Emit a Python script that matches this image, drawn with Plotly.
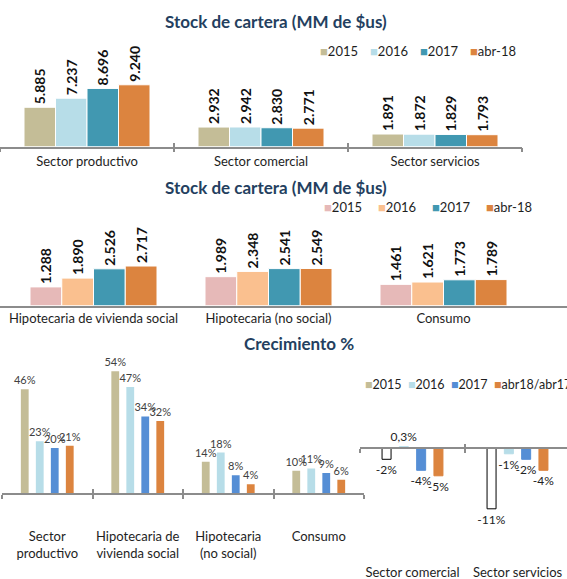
import plotly.graph_objects as go

W, H = 567, 579

# ---------------- data ----------------
series_a = ["2015", "2016", "2017", "abr-18"]
cats_a = ["Sector productivo", "Sector comercial", "Sector servicios"]
stock_a_2015 = [5.885, 2.932, 1.891]
stock_a_2016 = [7.237, 2.942, 1.872]
stock_a_2017 = [8.696, 2.830, 1.829]
stock_a_abr18 = [9.240, 2.771, 1.793]

cats_b = ["Hipotecaria de vivienda social", "Hipotecaria (no social)", "Consumo"]
stock_b_2015 = [1.288, 1.989, 1.461]
stock_b_2016 = [1.890, 2.348, 1.621]
stock_b_2017 = [2.526, 2.541, 1.773]
stock_b_abr18 = [2.717, 2.549, 1.789]

series_c = ["2015", "2016", "2017", "abr18/abr17"]
cats_c = ["Sector<br>productivo", "Hipotecaria de<br>vivienda social",
          "Hipotecaria<br>(no social)", "Consumo"]
crec_c_2015 = [46, 54, 14, 10]
crec_c_2016 = [23, 47, 18, 11]
crec_c_2017 = [20, 34, 8, 9]
crec_c_abr = [21, 32, 4, 6]

cats_d = ["Sector comercial", "Sector servicios"]
crec_d_2015 = [-2, -11]
crec_d_2016 = [0.3, -1]
crec_d_2017 = [-4, -2]
crec_d_abr = [-5, -4]

# ---------------- styles ----------------
FONT = "Lato"
TITLE_COLOR = "#243f60"
AXIS_COLOR = "#8c8c8c"
TEXT_COLOR = "#1e1e1e"
colors_a = ["#c4bd97", "#b7dde8", "#4198b1", "#dc843f"]
colors_b = ["#e6b9b8", "#fac08f", "#4198b1", "#dc843f"]
colors_c = ["#c4bd97", "#b7dde8", "#558ed5", "#dc843f"]


def X(p):
    return p / W


def Y(p):
    return 1 - p / H


def fmt_pct(v):
    if float(v).is_integer():
        return f"{v:.0f}%"
    return f"{v:.1f}%".replace(".", ",")


fig = go.Figure()


def add_group(values_list, names, colors, cats, xa, ya, slot, barw, texts, tfont,
              textangle=0, line_colors=None, fills=None, line_w=1):
    n = len(values_list)
    for i, (vals, name, col) in enumerate(zip(values_list, names, colors)):
        off = -n * slot / 2 + i * slot + (slot - barw) / 2
        fill = fills[i] if fills else col
        lc = line_colors[i] if line_colors else "white"
        fig.add_trace(go.Bar(
            x=cats, y=vals, name=name, xaxis=xa, yaxis=ya,
            offset=off, width=barw,
            marker=dict(color=fill, line=dict(color=lc, width=line_w)),
            text=texts(vals), textposition="outside", textangle=textangle,
            textfont=tfont, constraintext="none", cliponaxis=False,
            showlegend=False, hoverinfo="skip"))


# Panel A
add_group([stock_a_2015, stock_a_2016, stock_a_2017, stock_a_abr18], series_a, colors_a,
          cats_a, "x", "y", 31.5 / 174, 31.5 / 174,
          lambda vs: [f"{v:.3f}" for v in vs],
          dict(family=FONT, size=14, color="#111111", weight="bold"), textangle=-90)
# Panel B
add_group([stock_b_2015, stock_b_2016, stock_b_2017, stock_b_abr18], series_a, colors_b,
          cats_b, "x2", "y2", 31.75 / 175, 31.75 / 175,
          lambda vs: [f"{v:.3f}" for v in vs],
          dict(family=FONT, size=14, color="#111111", weight="bold"), textangle=-90)
# Panel C
add_group([crec_c_2015, crec_c_2016, crec_c_2017, crec_c_abr], series_c, colors_c,
          cats_c, "x3", "y3", 15 / 90.5, 7.8 / 90.5,
          lambda vs: [fmt_pct(v) for v in vs],
          dict(family=FONT, size=11, color="#404040"), line_w=0)
# Panel D
add_group([crec_d_2015, crec_d_2016, crec_d_2017, crec_d_abr], series_c, colors_c,
          cats_d, "x4", "y4", 17.3 / 105, 9 / 105,
          lambda vs: [fmt_pct(v) for v in vs],
          dict(family=FONT, size=12, color="#222222"),
          line_colors=["#000000", colors_c[1], colors_c[2], colors_c[3]],
          fills=["#ffffff", colors_c[1], colors_c[2], colors_c[3]], line_w=1)

# empty helper traces so that the overlay tick axes get drawn
for xa, ya in [("x5", "y"), ("x6", "y3"), ("x7", "y4"), ("x8", "y4")]:
    fig.add_trace(go.Scatter(x=[None], y=[None], xaxis=xa, yaxis=ya, mode="markers",
                             showlegend=False, hoverinfo="skip"))

tickfont = dict(family=FONT, size=13, color=TEXT_COLOR)
hidden_y = dict(visible=False, showgrid=False, zeroline=False, automargin=False)

n_a, n_b, n_c, n_d = len(cats_a), len(cats_b), len(cats_c), len(cats_d)
rng_a = [-0.5, n_a - 0.5]
rng_c = [-0.5, n_c - 0.5]
rng_d = [-0.5, -0.5 + 207 / 105]
rng_b = [-0.5 - 6 / 175, -0.5 - 6 / 175 + W / 175]

ya_range = [0, (146.7 - 60) / 6.7]
yb_range = [0, (305.7 - 225) / 14.6]
yc_range = [0, (493.3 - 360) / 2.26]
yd_range = [-(563 - 448.3) / 5.5, (448.3 - 400) / 5.5]


def zero_pos(domain, rng):
    return domain[0] + (0 - rng[0]) / (rng[1] - rng[0]) * (domain[1] - domain[0])


dom_ya = [Y(146.7), Y(60)]
dom_yb = [Y(305.7), Y(225)]
dom_yc = [Y(493.3), Y(360)]
dom_yd = [Y(563), Y(400)]
dom_xa = [0, X(522)]
dom_xb = [0, 1]
dom_xc = [X(2), X(364)]
dom_xd = [X(360), 1]

base_x = dict(type="category", showgrid=False, zeroline=False, tickfont=tickfont,
              linecolor=AXIS_COLOR, linewidth=1.5, tickcolor=AXIS_COLOR, tickwidth=1.5,
              tickangle=0, automargin=False)
tick_x = dict(type="linear", showticklabels=False, showgrid=False, zeroline=False,
              tickcolor=AXIS_COLOR, tickwidth=1.5, ticklen=4, automargin=False)

layout = dict(
    width=W, height=H, margin=dict(l=0, r=0, t=0, b=0, autoexpand=False),
    paper_bgcolor="white", plot_bgcolor="rgba(0,0,0,0)",
    barmode="overlay", showlegend=False,
    font=dict(family=FONT, color=TEXT_COLOR),
    xaxis=dict(base_x, domain=dom_xa, anchor="y", range=rng_a, showline=True,
               ticks="outside", tickson="boundaries", ticklen=4, ticklabelstandoff=2),
    yaxis=dict(hidden_y, domain=dom_ya, anchor="x", range=ya_range),
    xaxis2=dict(base_x, domain=dom_xb, anchor="y2", range=rng_b, showline=True, ticks=""),
    yaxis2=dict(hidden_y, domain=dom_yb, anchor="x2", range=yb_range),
    xaxis3=dict(base_x, domain=dom_xc, anchor="y3", range=rng_c, showline=True,
                ticks="outside", tickson="boundaries", ticklen=4, ticklabelstandoff=30),
    yaxis3=dict(hidden_y, domain=dom_yc, anchor="x3", range=yc_range),
    xaxis4=dict(base_x, domain=dom_xd, anchor="y4", range=rng_d, showline=False, ticks=""),
    yaxis4=dict(hidden_y, domain=dom_yd, anchor="x4", range=yd_range),
    # overlay axes for crossing tick marks / zero line
    xaxis5=dict(tick_x, overlaying="x", anchor="y", domain=dom_xa, range=rng_a,
                tickvals=[i - 0.5 for i in range(n_a + 1)], ticks="inside", showline=False),
    xaxis6=dict(tick_x, overlaying="x3", anchor="y3", domain=dom_xc, range=rng_c,
                tickvals=[i - 0.5 for i in range(n_c + 1)], ticks="inside", showline=False),
    xaxis7=dict(tick_x, overlaying="x4", anchor="free",
                position=zero_pos(dom_yd, yd_range), domain=dom_xd, range=rng_d,
                tickvals=[i - 0.5 for i in range(n_d + 1)], ticks="outside",
                showline=True, linecolor=AXIS_COLOR, linewidth=1.5),
    xaxis8=dict(tick_x, overlaying="x4", anchor="free",
                position=zero_pos(dom_yd, yd_range), domain=dom_xd, range=rng_d,
                tickvals=[i - 0.5 for i in range(n_d + 1)], ticks="inside", showline=False),
)
fig.update_layout(**layout)

title_font = dict(family=FONT, size=17, color=TITLE_COLOR, weight="bold")
annotations = [
    dict(text="Stock de cartera (MM de $us)", x=X(276), y=Y(22)),
    dict(text="Stock de cartera (MM de $us)", x=X(276), y=Y(187)),
    dict(text="Crecimiento %", x=X(299), y=Y(343)),
]
for a in annotations:
    fig.add_annotation(xref="paper", yref="paper", showarrow=False, font=title_font,
                       xanchor="center", yanchor="middle", **a)


def add_legend(names, colors, x0, pitch, yc, size=13):
    for i, (nm, c) in enumerate(zip(names, colors)):
        fig.add_annotation(
            xref="paper", yref="paper", showarrow=False,
            x=X(x0 + i * pitch), y=Y(yc), xanchor="left", yanchor="middle",
            text=f"<span style='color:{c}'>■</span>{nm}",
            font=dict(family=FONT, size=size, color=TEXT_COLOR))


add_legend(series_a, colors_a, 318, 50, 51)
add_legend(series_a, colors_b, 322, 54, 207)
add_legend(series_c, colors_c, 363, 43, 384, size=12.5)

fig.write_html("out.html", config={"displayModeBar": False},
               post_script="document.body.style.margin='0';document.body.style.overflow='hidden';")
